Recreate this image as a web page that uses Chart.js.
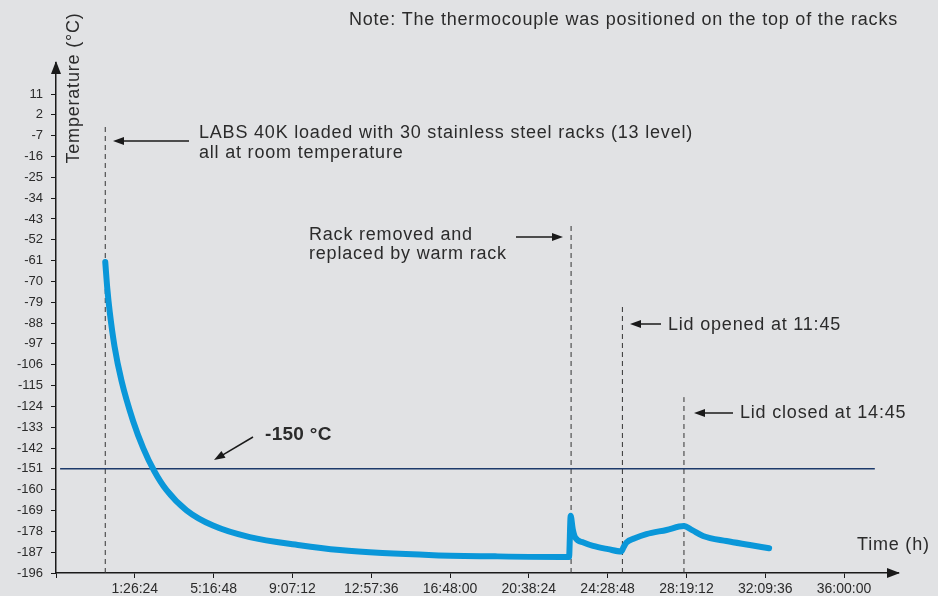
<!DOCTYPE html>
<html>
<head>
<meta charset="utf-8">
<script src="https://cdn.jsdelivr.net/npm/chart.js@4.4.1/dist/chart.umd.min.js"></script>
<style>
  html, body { margin: 0; padding: 0; background: #e1e2e4; }
  canvas { display: block; }
</style>
</head>
<body>
<canvas id="chartContainer" width="938" height="596"></canvas>
<script>
// temperature log (time in hours after loading)
const timeHours = [0, 0.1, 0.22, 0.45, 0.79, 1.36, 1.85, 2.38, 2.98, 3.96, 5.25, 7.04, 9.48, 11.43, 13.5, 16.0, 19.0,
    22.5, 22.6, 22.68, 22.78, 22.9, 23.3, 23.77, 24.5, 25.15, 25.25, 25.4, 25.8, 26.37, 27.35, 28.19,
    28.6, 29.13, 30.27, 31.41, 32.35];
const tempC = [-61.6, -73.1, -83.3, -98, -112.8, -130.4, -142, -151.8, -160.1, -168.9, -175.5, -180.5, -184, -186.1, -187.4, -188.3, -188.8,
    -189.1, -189.1, -171.3, -177, -180.7, -182.8, -184.3, -185.7, -186.7, -185, -182.8, -181, -179.2, -177.4, -175.7,
    -177.5, -180, -182.2, -183.9, -185.3];

// events: time of the dashed marker and the temperature where it ends at the top
const eventTimes = [0, 22.7, 25.2, 28.2];
const eventTops = [-3, -46, -80, -120];

const thresholdC = -151;
const thresholdSpan = [-2.2, 37.5];

const yTickValues = [11, 2, -7, -16, -25, -34, -43, -52, -61, -70, -79, -88, -97, -106, -115, -124, -133, -142, -151, -160, -169, -178, -187, -196];
const xTickValues = [-2.4, 1.44, 5.28, 9.12, 12.96, 16.8, 20.64, 24.48, 28.32, 32.16, 36.0];
const xTickLabels = ['', '1:26:24', '5:16:48', '9:07:12', '12:57:36', '16:48:00', '20:38:24', '24:28:48', '28:19:12', '32:09:36', '36:00:00'];

const FONT = "'Liberation Sans', Arial, sans-serif";
const INK = '#2b2b2b';

function arrow(ctx, x1, y1, x2, y2) {
    const a = Math.atan2(y2 - y1, x2 - x1);
    const len = 11, half = 4;
    ctx.beginPath();
    ctx.moveTo(x1, y1);
    ctx.lineTo(x2 - Math.cos(a) * len * 0.8, y2 - Math.sin(a) * len * 0.8);
    ctx.stroke();
    ctx.beginPath();
    ctx.moveTo(x2, y2);
    ctx.lineTo(x2 - Math.cos(a) * len + Math.sin(a) * half, y2 - Math.sin(a) * len - Math.cos(a) * half);
    ctx.lineTo(x2 - Math.cos(a) * len - Math.sin(a) * half, y2 - Math.sin(a) * len + Math.cos(a) * half);
    ctx.closePath();
    ctx.fill();
}

const overlay = {
    id: 'overlay',
    afterDraw(chart) {
        const ctx = chart.ctx;
        const area = chart.chartArea;
        ctx.save();
        ctx.strokeStyle = '#1a1a1a';
        ctx.fillStyle = '#1a1a1a';
        ctx.lineWidth = 1.5;

        // axis arrow heads
        ctx.beginPath();
        ctx.moveTo(area.left, area.top - 2);
        ctx.lineTo(area.left - 5, area.top + 11);
        ctx.lineTo(area.left + 5, area.top + 11);
        ctx.closePath();
        ctx.fill();
        ctx.beginPath();
        ctx.moveTo(area.right + 2, area.bottom);
        ctx.lineTo(area.right - 11, area.bottom - 5);
        ctx.lineTo(area.right - 11, area.bottom + 5);
        ctx.closePath();
        ctx.fill();

        // annotation arrows
        arrow(ctx, 189, 141, 113, 141);
        arrow(ctx, 516, 237, 563, 237);
        arrow(ctx, 661, 324, 630, 324);
        arrow(ctx, 733, 413, 694, 413);
        arrow(ctx, 253, 437, 214, 460);

        ctx.fillStyle = INK;
        ctx.textBaseline = 'middle';
        ctx.font = '18px ' + FONT;
        ctx.letterSpacing = '0.8px';
        ctx.textAlign = 'right';
        ctx.fillText('Note: The thermocouple was positioned on the top of the racks', 898, 20);
        ctx.textAlign = 'left';
        ctx.fillText('LABS 40K loaded with 30 stainless steel racks (13 level)', 199, 133);
        ctx.fillText('all at room temperature', 199, 153);
        ctx.fillText('Rack removed and', 309, 235);
        ctx.fillText('replaced by warm rack', 309, 254);
        ctx.fillText('Lid opened at 11:45', 668, 325);
        ctx.fillText('Lid closed at 14:45', 740, 413);
        ctx.fillText('Time (h)', 857, 545);
        ctx.font = 'bold 19px ' + FONT;
        ctx.letterSpacing = '0.3px';
        ctx.fillText('-150 °C', 265, 435);

        ctx.font = '18px ' + FONT;
        ctx.letterSpacing = '0.8px';
        ctx.translate(74, 88);
        ctx.rotate(-Math.PI / 2);
        ctx.textAlign = 'center';
        ctx.fillText('Temperature (°C)', 0, 0);
        ctx.restore();
    }
};

const datasets = [{
    label: 'Temperature',
    data: timeHours.map((t, i) => ({ x: t, y: tempC[i] })),
    borderColor: '#0a97d9',
    borderWidth: 6,
    borderCapStyle: 'round',
    borderJoinStyle: 'round',
    pointRadius: 0,
    cubicInterpolationMode: 'monotone',
    order: 0
}, {
    label: '-150 °C',
    data: thresholdSpan.map(t => ({ x: t, y: thresholdC })),
    borderColor: '#1d3a6b',
    borderWidth: 1.5,
    pointRadius: 0,
    order: 1
}];

eventTimes.forEach((t, i) => {
    datasets.push({
        label: 'event ' + i,
        data: [{ x: t, y: -196 }, { x: t, y: eventTops[i] }],
        borderColor: '#333333',
        borderWidth: 1,
        borderDash: [5, 4],
        pointRadius: 0,
        order: 2
    });
});

new Chart(document.getElementById('chartContainer').getContext('2d'), {
    type: 'line',
    data: { datasets: datasets },
    plugins: [overlay],
    options: {
        responsive: false,
        animation: false,
        layout: { padding: { top: 63, right: 40, left: 0, bottom: 0 } },
        plugins: { legend: { display: false }, tooltip: { enabled: false } },
        scales: {
            x: {
                type: 'linear',
                min: -2.4,
                max: 38.63,
                afterBuildTicks: scale => { scale.ticks = xTickValues.map(v => ({ value: v })); },
                afterFit: scale => { scale.height = 23; },
                border: { color: '#1a1a1a', width: 1.5 },
                grid: { drawOnChartArea: false, drawTicks: true, tickLength: 5, tickColor: '#1a1a1a' },
                ticks: {
                    padding: 3,
                    maxRotation: 0,
                    autoSkip: false,
                    color: INK,
                    font: { family: FONT, size: 14 },
                    callback: (v, i) => xTickLabels[i]
                }
            },
            y: {
                min: -196,
                max: 24.4,
                afterBuildTicks: scale => { scale.ticks = yTickValues.map(v => ({ value: v })); },
                afterFit: scale => { scale.width = 56; },
                border: { color: '#1a1a1a', width: 1.5 },
                grid: { drawOnChartArea: false, drawTicks: true, tickLength: 5, tickColor: '#1a1a1a' },
                ticks: {
                    padding: 8,
                    autoSkip: false,
                    color: INK,
                    font: { family: FONT, size: 13 },
                    callback: v => String(v)
                }
            }
        }
    }
});
</script>
</body>
</html>
